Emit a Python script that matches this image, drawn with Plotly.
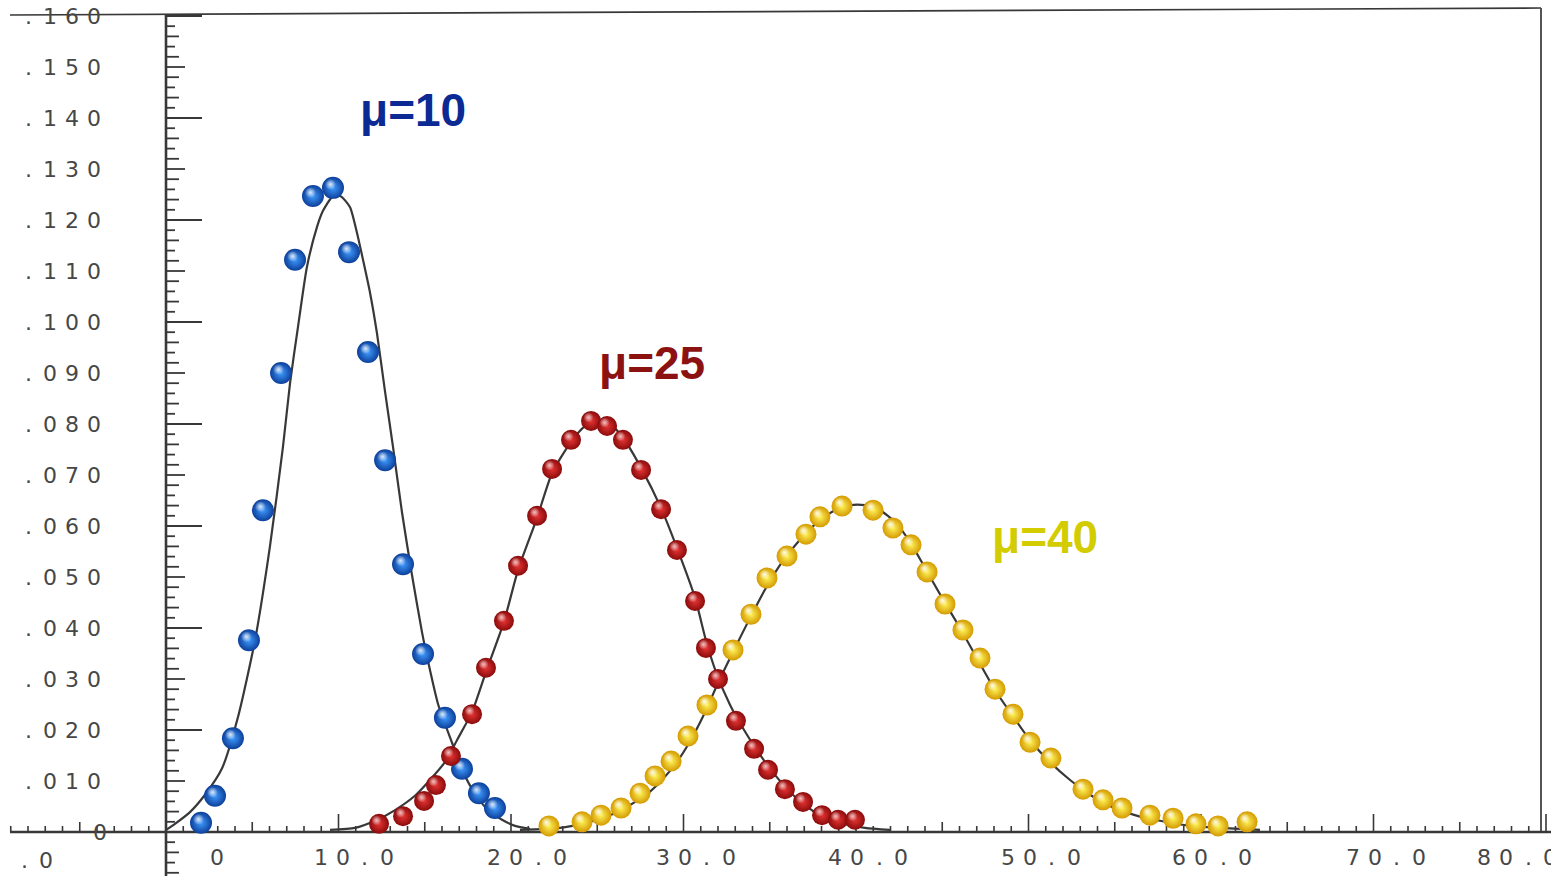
import numpy as np
import plotly.graph_objects as go

# ---------------------------------------------------------------------------
# Poisson probabilities P(k; mu) for mu = 10, 25, 40 (points) and the
# smooth curves drawn through them.
# ---------------------------------------------------------------------------
mu10_x = [2.03, 2.84, 3.88, 4.81, 5.62, 6.67, 7.48, 8.52, 9.68, 10.61, 11.71,
          12.70, 13.74, 14.90, 16.17, 17.16, 18.14, 19.07]
mu10_y = [0.0018, 0.0071, 0.0184, 0.0376, 0.0631, 0.0900, 0.1122, 0.1247,
          0.1263, 0.1137, 0.0941, 0.0729, 0.0525, 0.0349, 0.0224, 0.0124,
          0.0076, 0.0047]

mu25_x = [12.35, 13.74, 14.96, 15.65, 16.52, 17.74, 18.55, 19.59, 20.41, 21.51,
          22.38, 23.48, 24.64, 25.57, 26.49, 27.54, 28.70, 29.62, 30.67, 31.30,
          32.00, 33.04, 34.09, 34.90, 35.88, 36.93, 38.03, 38.96, 39.94]
mu25_y = [0.0016, 0.0031, 0.0061, 0.0092, 0.0149, 0.0231, 0.0322, 0.0414,
          0.0522, 0.0620, 0.0712, 0.0769, 0.0806, 0.0796, 0.0769, 0.0710,
          0.0633, 0.0553, 0.0453, 0.0361, 0.0300, 0.0218, 0.0163, 0.0122,
          0.0084, 0.0059, 0.0033, 0.0024, 0.0024]

mu40_x = [22.20, 24.12, 25.22, 26.38, 27.48, 28.35, 29.28, 30.26, 31.36, 32.87,
          33.91, 34.84, 36.00, 37.10, 37.91, 39.19, 40.99, 42.14, 43.19, 44.12,
          45.16, 46.20, 47.19, 48.06, 49.10, 50.09, 51.30, 53.16, 54.32, 55.42,
          57.04, 58.38, 59.71, 60.99, 62.67]
mu40_y = [0.0012, 0.0020, 0.0033, 0.0047, 0.0076, 0.0110, 0.0139, 0.0188,
          0.0249, 0.0357, 0.0427, 0.0498, 0.0541, 0.0584, 0.0618, 0.0639,
          0.0631, 0.0596, 0.0563, 0.0510, 0.0447, 0.0396, 0.0341, 0.0280,
          0.0231, 0.0176, 0.0145, 0.0084, 0.0063, 0.0047, 0.0033, 0.0027,
          0.0016, 0.0012, 0.0020]

curve10_x = [0.0, 0.52, 1.39, 2.26, 3.25, 4.17, 5.16, 6.03, 6.78, 7.19, 7.65,
             8.17, 8.75, 9.10, 9.62, 9.91, 10.20, 10.67, 11.07, 11.42, 11.83,
             12.23, 12.70, 13.16, 13.68, 14.26, 14.84, 15.30, 15.77, 16.58,
             17.22, 17.91, 18.67, 19.48, 20.23, 21.10]
curve10_y = [0.0004, 0.0016, 0.0039, 0.0073, 0.0125, 0.0225, 0.0376, 0.0561,
             0.0755, 0.0880, 0.0990, 0.1108, 0.1186, 0.1218, 0.1245, 0.1249,
             0.1245, 0.1225, 0.1175, 0.1122, 0.1057, 0.0978, 0.0863, 0.0755,
             0.0627, 0.0504, 0.0392, 0.0318, 0.0251, 0.0175, 0.0118, 0.0075,
             0.0043, 0.0024, 0.0012, 0.0006]

curve25_x = [9.51, 10.96, 12.12, 13.28, 14.43, 15.30, 16.17, 16.93, 17.74,
             18.55, 19.59, 20.41, 21.51, 22.38, 23.48, 24.29, 24.99, 25.74,
             26.49, 27.54, 28.70, 29.62, 30.67, 31.30, 31.88, 32.70, 33.51,
             34.32, 35.30, 36.46, 37.62, 39.07, 40.52, 41.97]
curve25_y = [0.0004, 0.0008, 0.0022, 0.0043, 0.0071, 0.0102, 0.0137, 0.0184,
             0.0235, 0.0314, 0.0412, 0.0514, 0.0616, 0.0704, 0.0765, 0.0796,
             0.0806, 0.0800, 0.0773, 0.0714, 0.0635, 0.0557, 0.0459, 0.0376,
             0.0314, 0.0249, 0.0200, 0.0157, 0.0112, 0.0069, 0.0039, 0.0018,
             0.0008, 0.0004]

curve40_x = [20.52, 22.84, 24.29, 25.74, 26.90, 27.94, 28.75, 29.57, 30.38,
             31.25, 32.00, 32.87, 33.74, 34.72, 35.71, 36.75, 37.80, 38.78,
             39.65, 40.52, 41.39, 42.26, 43.13, 44.00, 44.99, 46.03, 47.07,
             48.06, 49.10, 50.09, 51.25, 52.41, 53.57, 54.72, 56.17, 57.62,
             59.36, 61.10, 63.42]
curve40_y = [0.0004, 0.0008, 0.0018, 0.0033, 0.0053, 0.0076, 0.0102, 0.0135,
             0.0178, 0.0235, 0.0292, 0.0353, 0.0412, 0.0475, 0.0529, 0.0573,
             0.0608, 0.0631, 0.0641, 0.0641, 0.0631, 0.0608, 0.0569, 0.0518,
             0.0459, 0.0400, 0.0337, 0.0278, 0.0227, 0.0180, 0.0137, 0.0102,
             0.0073, 0.0051, 0.0033, 0.0022, 0.0012, 0.0008, 0.0004]

# axis tick labels
y_label_vals = [0.16, 0.15, 0.14, 0.13, 0.12, 0.11, 0.10, 0.09, 0.08, 0.07,
                0.06, 0.05, 0.04, 0.03, 0.02, 0.01]
y_label_text = [".160", ".150", ".140", ".130", ".120", ".110", ".100", ".090",
                ".080", ".070", ".060", ".050", ".040", ".030", ".020", ".010"]
x_label_vals = [0, 10, 20, 30, 40, 50, 60, 70, 80]
x_label_text = ["0", "10.0", "20.0", "30.0", "40.0", "50.0", "60.0", "70.0", "80.0"]
# horizontal nudge (px) of each x label's first character from its tick
x_label_nudge = [51, -18, -17, -21, -21, -21, -22, -21, -62]

# ---------------------------------------------------------------------------
# Canvas and scales
# ---------------------------------------------------------------------------
W, H = 1551, 876
ORIGIN_PX, ORIGIN_PY = 166, 832      # pixel position of (0, 0)
PX_PER_X, PX_PER_Y = 17.25, 5100.0   # pixels per data unit
x_range = [-ORIGIN_PX / PX_PER_X, (W - ORIGIN_PX) / PX_PER_X]
y_range = [(ORIGIN_PY - H) / PX_PER_Y, ORIGIN_PY / PX_PER_Y]

INK = "#383838"
LABEL_INK = "#474747"
fig = go.Figure()


def segments(pairs):
    xs, ys = [], []
    for (xa, ya), (xb, yb) in pairs:
        xs += [xa, xb, None]
        ys += [ya, yb, None]
    return xs, ys


def add_lines(pairs, width, color=INK):
    xs, ys = segments(pairs)
    fig.add_trace(go.Scatter(x=xs, y=ys, mode="lines", hoverinfo="skip",
                             line=dict(color=color, width=width)))


# frame: sloping top edge and right edge
x_left = 10 / PX_PER_X + x_range[0]
x_right = (1541 - ORIGIN_PX) / PX_PER_X
add_lines([((x_left, (ORIGIN_PY - 15) / PX_PER_Y), (x_right, (ORIGIN_PY - 8) / PX_PER_Y)),
           ((x_right, (ORIGIN_PY - 8) / PX_PER_Y), (x_right, 0.0))], 1.7)

# axes
add_lines([((x_left, 0.0), (x_range[1], 0.0)),
           ((0.0, y_range[0]), (0.0, (ORIGIN_PY - 15) / PX_PER_Y))], 2.6)

# y-axis ticks (every .002, longer at .010 and .020)
y_ticks = np.round(np.arange(-0.008, 0.1601, 0.002), 3)
y_pairs = []
for v in y_ticks:
    step = int(round(v * 1000))
    if step == 0:
        continue
    if step % 20 == 0:
        ln = 36
    elif step % 10 == 0:
        ln = 19
    else:
        ln = 13 if (step // 2) % 2 == 0 else 9
    y_pairs.append(((0.0, v), (ln / PX_PER_X, v)))
add_lines(y_pairs, 1.8)

# x-axis ticks (every unit, longer at 5 and 10)
x_ticks = np.arange(-9, 81)
x_pairs = []
for k in x_ticks:
    if k == 0:
        continue
    if k % 10 == 0:
        ln = 18
    elif k % 5 == 0:
        ln = 10
    else:
        ln = 6
    x_pairs.append(((float(k), 0.0), (float(k), ln / PX_PER_Y)))
add_lines(x_pairs, 1.6)

# smooth probability curves
for cx, cy in [(curve10_x, curve10_y), (curve25_x, curve25_y), (curve40_x, curve40_y)]:
    fig.add_trace(go.Scatter(x=cx, y=cy, mode="lines", hoverinfo="skip",
                             line=dict(color=INK, width=2.2, shape="spline", smoothing=0.6)))


# glossy spheres for the points
def add_balls(xs, ys, edge, center, shine, size):
    fig.add_trace(go.Scatter(
        x=xs, y=ys, mode="markers", hoverinfo="skip",
        marker=dict(size=size, color=edge, line=dict(width=0),
                    gradient=dict(type="radial", color=center))))
    hx = [v - 2.5 / PX_PER_X for v in xs]
    hy = [v + 3.5 / PX_PER_Y for v in ys]
    fig.add_trace(go.Scatter(
        x=hx, y=hy, mode="markers", hoverinfo="skip",
        marker=dict(size=size * 0.5, color="rgba(255,255,255,0)", line=dict(width=0),
                    gradient=dict(type="radial", color=shine))))


add_balls(mu40_x, mu40_y, "#d49a00", "#fff35a", "rgba(255,255,235,0.95)", 21)
add_balls(mu10_x, mu10_y, "#0c3f9a", "#3f9bff", "rgba(235,245,255,0.9)", 22)
add_balls(mu25_x, mu25_y, "#8a0b0b", "#e63434", "rgba(255,215,215,0.85)", 20)

# ---------------------------------------------------------------------------
# Text
# ---------------------------------------------------------------------------
annotations = []
LABEL_FONT = dict(family="DejaVu Sans", size=22, color=LABEL_INK)
PITCH = 22


def spaced(text, x, y, xshift, yshift):
    for i, ch in enumerate(text):
        annotations.append(dict(x=x, y=y, xref="x", yref="y", text=ch,
                                showarrow=False, xanchor="center", yanchor="middle",
                                xshift=xshift + i * PITCH, yshift=yshift,
                                font=LABEL_FONT))


for v, t in zip(y_label_vals, y_label_text):
    spaced(t, 0.0, v, 28 - ORIGIN_PX, 0)
spaced(".0", 0.0, 0.0, 24 - ORIGIN_PX, -28)
for v, t, n in zip(x_label_vals, x_label_text, x_label_nudge):
    spaced(t, v, 0.0, n, -25)
# plotter origin mark on the baseline
annotations.append(dict(x=-3.8, y=0.0, xref="x", yref="y", text="0", showarrow=False,
                        xanchor="center", yanchor="middle", font=LABEL_FONT))

MU_FONT = "Liberation Sans, Arial, sans-serif"
for txt, x, y, col in [("μ=10", 14.32, 0.1416, "#0b2a94"),
                       ("μ=25", 28.17, 0.0920, "#8c1212"),
                       ("μ=40", 50.96, 0.0578, "#d2cc00")]:
    annotations.append(dict(x=x, y=y, xref="x", yref="y", text=f"<b>{txt}</b>",
                            showarrow=False, xanchor="center", yanchor="middle",
                            font=dict(family=MU_FONT, size=46, color=col)))

fig.update_layout(
    width=W, height=H, autosize=False,
    margin=dict(l=0, r=0, t=0, b=0, pad=0),
    paper_bgcolor="white", plot_bgcolor="white",
    showlegend=False,
    xaxis=dict(range=x_range, visible=False, fixedrange=True),
    yaxis=dict(range=y_range, visible=False, fixedrange=True),
    annotations=annotations,
)

fig.write_html("out.html", config={"displayModeBar": False})
